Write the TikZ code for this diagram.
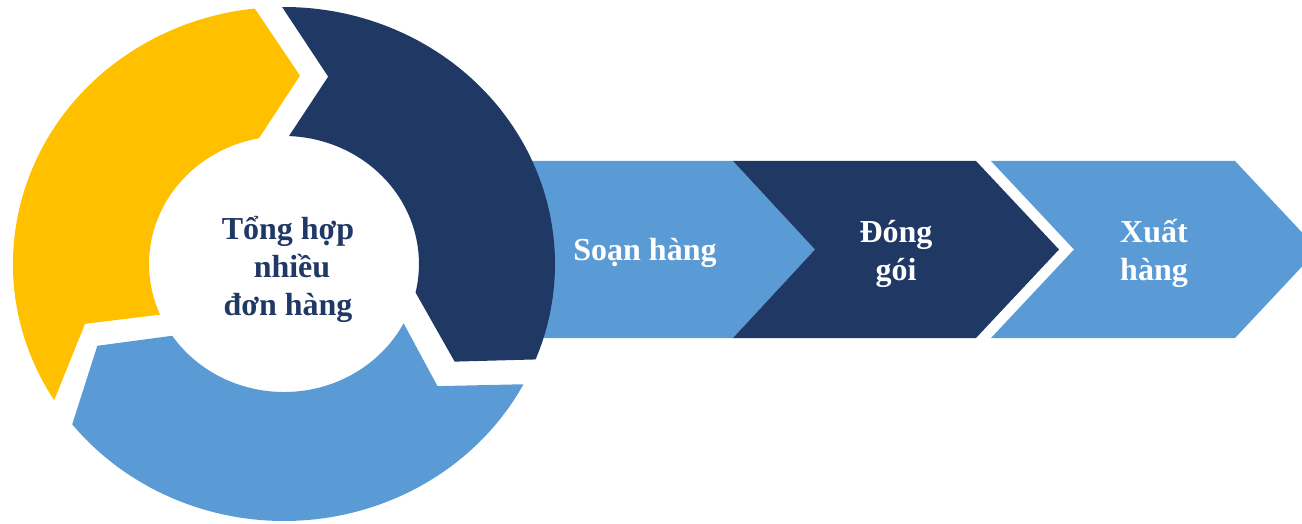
\documentclass[tikz,border=0pt]{standalone}
\usepackage{fontspec}
\setmainfont{Liberation Serif}
\definecolor{ygold}{HTML}{FFC000}
\definecolor{navy}{HTML}{203864}
\definecolor{lblue}{HTML}{5B9BD5}
\begin{document}
\begin{tikzpicture}[x=0.75pt,y=-0.75pt,
  lbl/.style={font=\fontsize{24}{28.5}\selectfont\bfseries, align=center, inner sep=0pt}]
\useasboundingbox (0,0) rectangle (1302,524);
\clip (0,0) rectangle (1302,524);
% chevrons
\fill[lblue] (480,161) -- (733,161) -- (815,249.5) -- (733,338) -- (480,338) -- cycle;
\fill[navy] (733,161) -- (976,161) -- (1059,249.5) -- (976,338) -- (733,338) -- (815,249.5) -- cycle;
\fill[lblue] (991,161) -- (1235,161) -- (1318,249.5) -- (1235,338) -- (991,338) -- (1074,249.5) -- cycle;
% circular arrows
\begin{scope}[shift={(284,264)}, xscale=1.0545, yscale=-1]
\fill[ygold] (212:257) arc[start angle=212, end angle=96.2, radius=257]
  -- (85.4:189) -- (100.7:128) arc[start angle=100.7, end angle=203.3, radius=128]
  -- (197.6:198) -- cycle;
\fill[navy] (90.4:257) arc[start angle=90.4, end angle=-21.8, radius=257]
  -- (-31.1:189) -- (-12.9:128) arc[start angle=-12.9, end angle=87.9, radius=128]
  -- (77.4:192) -- cycle;
\fill[lblue] (-27.9:257) arc[start angle=-27.9, end angle=-141.4, radius=257]
  -- (-155.2:195) -- (-145.9:128) arc[start angle=-145.9, end angle=-27.6, radius=128]
  -- (-40:190) -- cycle;
\end{scope}
% texts
\node[lbl, text=navy] (center) at (288,269) {Tổng hợp\\\hspace{0.25em}nhiều\\đơn hàng};
\node[lbl, text=white, anchor=base] (t1) at (645,260) {Soạn hàng};
\node[lbl, text=white] (t2) at (896,254) {Đóng\\gói};
\node[lbl, text=white] (t3) at (1154,253) {Xuất\\hàng};
\end{tikzpicture}
\end{document}
